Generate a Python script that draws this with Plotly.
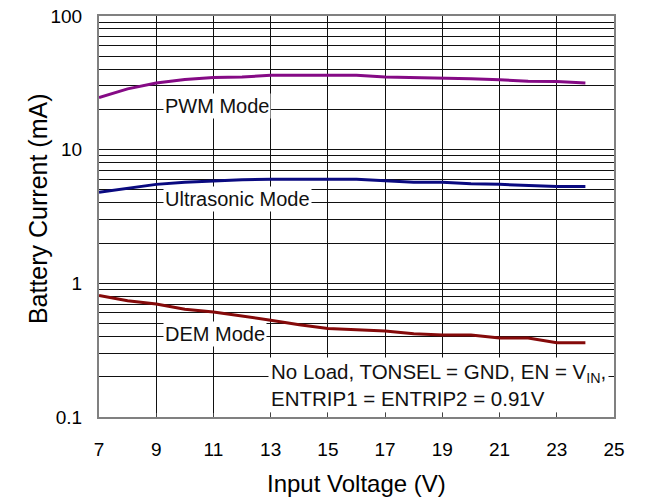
import math
import plotly.graph_objects as go

voltage = [7, 8, 9, 10, 11, 12, 13, 14, 15, 16, 17, 18, 19, 20, 21, 22, 23, 24]
pwm_ma = [24.5, 28.5, 31.5, 33.5, 34.7, 35.0, 36.0, 36.0, 36.0, 36.0, 35.0, 34.8, 34.5, 34.0, 33.3, 32.5, 32.3, 31.5]
ultra_ma = [4.8, 5.15, 5.5, 5.7, 5.85, 5.95, 6.0, 6.0, 6.0, 6.0, 5.85, 5.7, 5.7, 5.55, 5.5, 5.4, 5.3, 5.3]
dem_ma = [0.81, 0.74, 0.70, 0.64, 0.61, 0.57, 0.53, 0.49, 0.46, 0.45, 0.44, 0.42, 0.41, 0.41, 0.39, 0.39, 0.36, 0.36]

x_ticks = [7, 9, 11, 13, 15, 17, 19, 21, 23, 25]
y_decades = [0.1, 1, 10, 100]

FONT = "Liberation Sans, Arial, sans-serif"

y_grid = []
for d in [0.1, 1, 10]:
    for m in range(1, 10):
        y_grid.append(round(d * m, 6))
y_grid.append(100)
y_text = [("0.1" if v == 0.1 else str(int(v))) if v in y_decades else "" for v in y_grid]

fig = go.Figure()
fig.add_trace(go.Scatter(x=voltage, y=pwm_ma, mode="lines", line=dict(color="#850A85", width=3), name="PWM Mode"))
fig.add_trace(go.Scatter(x=voltage, y=ultra_ma, mode="lines", line=dict(color="#0A0A80", width=3), name="Ultrasonic Mode"))
fig.add_trace(go.Scatter(x=voltage, y=dem_ma, mode="lines", line=dict(color="#850A0A", width=3), name="DEM Mode"))

label_font = dict(family=FONT, size=20, color="#111")
for txt, yv in [("PWM Mode", 21.3), ("Ultrasonic Mode", 4.3), ("DEM Mode", 0.416)]:
    fig.add_annotation(x=9.22, y=math.log10(yv), xref="x", yref="y", text=txt,
                       showarrow=False, xanchor="left", yanchor="middle", bgcolor="white",
                       font=label_font, borderpad=1)

fig.add_annotation(x=12.91, y=math.log10(0.107), xref="x", yref="y",
                   text="No Load, TONSEL = GND, EN = V<sub>IN</sub>,<br>ENTRIP1 = ENTRIP2 = 0.91V",
                   showarrow=False, xanchor="left", yanchor="bottom", align="left",
                   bgcolor="white", font=dict(family=FONT, size=20.5, color="#111"), borderpad=2)

# chart title (cut off by the top edge, as in the reference)
fig.add_annotation(x=0.493, y=1.0, xref="paper", yref="paper", yshift=17,
                   text="<b>Battery Current vs Input Voltage</b>", showarrow=False,
                   xanchor="center", yanchor="bottom", font=dict(family=FONT, size=28, color="#000"))

# axis titles
fig.add_annotation(x=0.5, y=-0.1646, xref="paper", yref="paper", text="Input Voltage (V)",
                   showarrow=False, xanchor="center", yanchor="middle",
                   font=dict(family=FONT, size=24, color="#000"))
fig.add_annotation(x=-0.118, y=0.519, xref="paper", yref="paper", text="Battery Current (mA)",
                   showarrow=False, xanchor="center", yanchor="middle", textangle=-90,
                   font=dict(family=FONT, size=25, color="#000"))

fig.update_layout(
    width=645, height=500,
    margin=dict(l=99, r=31, t=16, b=83),
    paper_bgcolor="white", plot_bgcolor="white",
    showlegend=False,
    font=dict(family=FONT, size=19, color="#000"),
    xaxis=dict(range=[7, 25], tickvals=x_ticks, ticktext=[str(v) for v in x_ticks],
               showgrid=True, gridcolor="#111", gridwidth=1,
               showline=True, linecolor="#808080", linewidth=2, mirror=True,
               ticks="inside", ticklen=4, tickcolor="#444", ticklabelstandoff=14,
               ticklabeloverflow="allow",
               automargin=False, zeroline=False, tickfont=dict(size=19)),
    yaxis=dict(type="log", range=[-1, 2], tickvals=y_grid, ticktext=y_text,
               showgrid=True, gridcolor="#111", gridwidth=1,
               showline=True, linecolor="#808080", linewidth=2, mirror=True,
               ticks="", ticklabelstandoff=11, ticklabeloverflow="allow",
               automargin=False, zeroline=False, tickfont=dict(size=19)),
)

fig.write_html("out.html", config={"displayModeBar": False},
               post_script="document.body.style.margin='0';")
